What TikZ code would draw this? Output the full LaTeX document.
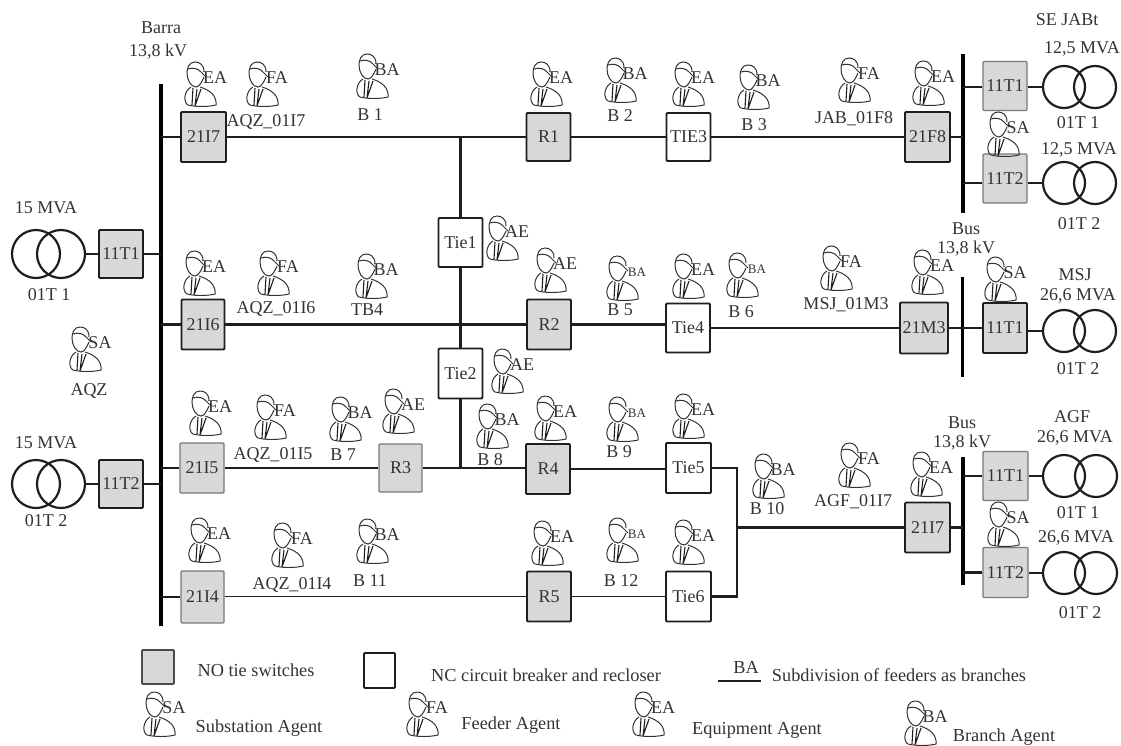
\documentclass[tikz,border=0pt]{standalone}
\usepackage{fontspec}
\setmainfont{Liberation Serif}
\usepackage{xcolor}
\usetikzlibrary{positioning,calc}
\definecolor{Ink}{HTML}{1E1E1E}
\definecolor{Soft}{HTML}{333333}
\definecolor{SwGrey}{HTML}{D8D8D8}
\newcommand{\fsize}[1]{\fontsize{#1}{#1}\selectfont}
\newcommand{\smallba}{\raisebox{-3pt}{\fsize{13}BA}}
\tikzset{
  sw/.style={draw=Ink,line width=1.8pt,rounded corners=1pt,fill=white,inner sep=0pt,font=\fsize{18},text=Soft},
  swgrey/.style={sw,fill=SwGrey},
  swpale/.style={swgrey,draw=Ink!60,line width=1.2pt},
  line/.style={draw=Ink,line width=2.4pt},
  thickline/.style={draw=Ink,line width=2.8pt},
  thinline/.style={draw=Ink,line width=1.8pt},
  bus/.style={draw=black,line width=4.4pt},
  trafo/.style={circle,draw=Ink,line width=2.2pt,inner sep=0pt,minimum size=42pt},
  lbl/.style={font=\fsize{18},text=Soft,inner sep=0pt},
  lgd/.style={font=\fsize{18.3},text=Soft,inner sep=0pt},
  aglbl/.style={font=\fsize{18},text=Soft,inner sep=0pt},
  pics/agent/.style={code={
    \draw[Soft,line width=1pt] (-5,9) .. controls (-12,13) and (-13,24) .. (-8,27) .. controls (0,29) and (12,29) .. (20,27)
      .. controls (21,18) and (14,12) .. (4,9);
    \draw[Soft,line width=1pt] (8,-6) .. controls (8,-14) and (3,-16) .. (-1,-16) .. controls (-7,-16) and (-9,-10) .. (-9,-5)
      .. controls (-9,2) and (-5,9) .. (0,9) .. controls (3,9) and (6,4) .. (8,-1);
    \draw[Soft,line width=1pt] (-8,-9) .. controls (-3,-11) and (3,-9) .. (5,-6) -- (10,-1);
    \draw[Ink,line width=1.1pt] (-3,10) -- (-4,27) (1,11) -- (-1,28) (5,11) -- (-1,28);
    \node[aglbl] (-t) at (19,0) {#1};
  }}
}
\begin{document}
\begin{tikzpicture}[x=1pt,y=-1pt]
  \useasboundingbox (0,0) rectangle (1121,745);
  \coordinate (busA) at (161,355);
  \coordinate (busF) at (963,134);
  \coordinate (busM) at (962,327);
  \coordinate (busG) at (963,520);
  \draw[bus] (161,84) -- (busA) -- (161,626);
  \draw[bus] (963,54) -- (busF) -- (963,213);
  \draw[bus,line width=3pt] (962,277) -- (busM) -- (962,377);
  \draw[bus] (963,457) -- (busG) -- (963,585);
  % switches
  \foreach \nm/\x/\y/\w/\h/\t/\st in {
    a1/203.5/137/45/50/21I7/swgrey, r1/548.5/137/44/48/R1/swgrey, t3/688.5/137/44/48/TIE3/sw, f8/927.5/137/45/50/21F8/swgrey,
    fa/1005/86/44/49/11T1/swpale, fb/1005/178.5/44/49/11T2/swpale,
    t1/460.5/242.5/44/49/Tie1/sw, t2/460.5/373.5/44/50/Tie2/sw,
    a2/203/324.5/43/50/21I6/swgrey, r2/549/324.5/44/50/R2/swgrey, t4/688/328/44/49/Tie4/sw, m3/924/328/48/51/21M3/swgrey, ma/1005/328/44/50/11T1/swgrey,
    a3/202/468/44/50/21I5/swpale, r3/400.5/468/43/48/R3/swpale, r4/548/469/44/50/R4/swgrey, t5/688.5/468/45/50/Tie5/sw,
    g7/927.5/527.5/45/50/21I7/swgrey, ga/1005.5/476/45/49/11T1/swpale, gb/1005.5/572.5/45/50/11T2/swpale,
    a4/202.5/597/43/52/21I4/swpale, r5/549/596.5/44/50/R5/swgrey, t6/688.5/596.5/45/50/Tie6/sw,
    la/121/254/44/48/11T1/swgrey, lb/121/484/44/48/11T2/swgrey} {
    \node[\st,minimum width=\w pt,minimum height=\h pt] (\nm) at (\x,\y) {\t};
  }
  % transformers
  \foreach \nm/\x/\y in {
    fau/1064/87, fav/1095/87, fbu/1064/183, fbv/1095/183,
    mau/1064/331, mav/1095/331, gau/1064/476, gav/1096/476, gbu/1064/573, gbv/1096/573} {
    \node[trafo] (\nm) at (\x,\y) {};
  }
  \foreach \nm/\x/\y in {lau/36/254, lav/61/254, lbu/36/484, lbv/61/484} {
    \node[trafo,minimum size=48pt] (\nm) at (\x,\y) {};
  }
  % feeders
  \coordinate (j1) at (t1.north |- a1.east);
  \coordinate (j3) at (t2.south |- a3.east);
  \coordinate (k7) at (737,527.5);
  \draw[line] (a1) -- (r1) -- (t3) -- (f8);
  \draw[line] (j1) -- (t1) -- (t2) -- (j3);
  \draw[line] (a2) -- (r2) (r2.east) -- (r2.east -| t4.west) (t4) -- (m3);
  \draw[thinline] (a3) -- (r3);
  \draw[line] (r3.east) -- (r3.east -| r4.west) (r4.east) -- (r4.east -| t5.west);
  \draw[thickline] (t5.east) -| (k7) |- (t6.east);
  \draw[line] (k7) -- (g7.west);
  \draw[thinline] (a4.east |- r5.west) -- (r5.west);
  \draw[thinline] (r5.east) -- (t6.west);
  % bus bars
  \foreach \nm in {a1,a2,a3,a4} {\draw[line] (\nm.west) -- (\nm.west -| busA);}
  \foreach \nm in {la,lb} {\draw[line] (\nm.east) -- (\nm.east -| busA);}
  \draw[line] (fa.west |- fau.west) -- (fau.west -| busF) (fb.west |- fbu.west) -- (fbu.west -| busF);
  \draw[line] (f8.east) -- (f8.east -| busF);
  \draw[line] (m3.east) -- (ma.west);
  \draw[line] (g7.east) -- (g7.east -| busG);
  \foreach \nm in {ga,gb} {\draw[line] (\nm.west) -- (\nm.west -| busG);}
  \draw[line] (lav.east) -- (la.west) (lbv.east) -- (lb.west);
  \draw[line] (fa.east |- fau.west) -- (fau.west) (fb.east |- fbu.west) -- (fbu.west);
  \draw[thickline] (ma.east |- mau.west) -- (mau.west);
  \draw[line] (ga.east) -- (gau.west) (gb.east |- gbu.west) -- (gbu.west);
  % texts
  \foreach \x/\y/\t [count=\i] in {
    161/28/Barra, 158/52/{13,8 kV}, 46/208/{15 MVA}, 49/295/{01T 1}, 89/391/AQZ, 46/443/{15 MVA}, 46/521/{01T 2},
    266/122/AQZ\_01I7, 370/115/B 1, 620/116/B 2, 754/125/B 3, 854/119/JAB\_01F8,
    1067/20/SE JABt, 1082/49/{12,5 MVA}, 1078/123/{01T 1}, 1079/150/{12,5 MVA}, 1079/224/{01T 2}, 966/229/Bus, 966/249/{13,8 kV},
    276/309/AQZ\_01I6, 367/310/TB4, 620/310/B 5, 741/312/B 6, 846/305/MSJ\_01M3, 1075/275/MSJ, 1078/296/{26,6 MVA}, 1078/369/{01T 2},
    273/455/AQZ\_01I5, 343/455/B 7, 490/460/B 8, 619/452/B 9, 767/509/B 10, 853/502/AGF\_01I7,
    962/423/Bus, 962/443/{13,8 kV}, 1072/417/AGF, 1075/438/{26,6 MVA}, 1078/513/{01T 1}, 1076/538/{26,6 MVA}, 1080/613/{01T 2},
    292/585/AQZ\_01I4, 370/581/B 11, 621/581/B 12} {
    \node[lbl] (txt\i) at (\x,\y) {\t};
  }
  % agents
  \foreach \x/\y/\t [count=\i] in {
    215/78/EA, 277/78/FA, 387/70/BA, 561/78/EA, 635/74/BA, 703/78/EA, 768/81/BA, 869/74/FA, 943/77/EA, 1018/128/SA,
    517/232/AE, 565/264/AE, 703/270/EA, 851/262/FA, 942/266/EA, 1015/273/SA, 214/267/EA, 288/267/FA, 386/270/BA,
    100/343/SA, 522/365/AE, 220/407/EA, 285/411/FA, 360/413/BA, 413/405/AE, 507/420/BA, 565/412/EA, 703/410/EA,
    783/470/BA, 869/459/FA, 941/468/EA, 1018/518/SA, 219/534/EA, 302/539/FA, 387/535/BA, 562/537/EA, 703/536/EA,
    174/708/SA, 437/708/FA, 663/708/EA, 935/717/BA,
    637/272/\smallba, 757/269/\smallba, 637/413/\smallba, 637/534/\smallba} {
    \pic (ag\i) at (\x-19,\y) {agent=\t};
  }
  % legend
  \node[swgrey,draw=Ink!80,minimum width=32pt,minimum height=34pt] (keyNO) at (158,667) {};
  \node[sw,minimum width=31pt,minimum height=35pt] (keyNC) at (379.5,670.5) {};
  \node[lgd] (keyNOt) at (256,670) {NO tie switches};
  \node[lgd] (keyNCt) at (546,675) {NC circuit breaker and recloser};
  \node[lgd] (keyBA) at (746,667) {BA};
  \coordinate (keyL) at (718,681);
  \draw[line] (keyL) -- ++(43,0);
  \node[lgd] (keyBAt) at (899,675) {Subdivision of feeders as branches};
  \node[lgd] (keySA) at (259,728) {Substation Agent};
  \node[lgd] (keyFA) at (511,725) {Feeder Agent};
  \node[lgd] (keyEA) at (757,730) {Equipment Agent};
  \node[lgd] (keyBr) at (1004,737) {Branch Agent};
\end{tikzpicture}
\end{document}
